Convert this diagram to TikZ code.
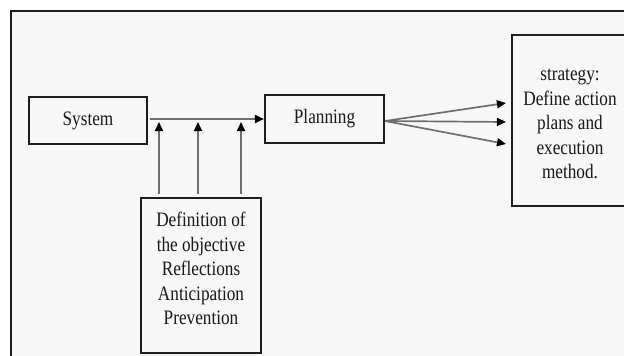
\documentclass[tikz,border=0pt]{standalone}
\usepackage{fontspec}
\setmainfont{Liberation Serif}[FakeStretch=0.84]
\usetikzlibrary{arrows.meta}
\definecolor{panel}{HTML}{F7F7F7}
\definecolor{edge}{HTML}{1E1E1E}
\definecolor{wire}{HTML}{6E6E6E}
\tikzset{
  box/.style={draw=edge, line width=2.1pt, rectangle, inner sep=0pt, fill=panel},
  boxtext/.style={align=center, inner sep=0pt, text=black!90, font=\fontsize{20.5}{24.5}\selectfont},
  flow/.style={draw=wire, line width=1.7pt,
    -{Triangle[length=9pt,width=8pt,color=black]}},
}
\begin{document}
\begin{tikzpicture}[x=1pt,y=-1pt]
  \useasboundingbox (0,0) rectangle (624,356);
  \clip (0,0) rectangle (624,356);
  \fill[white] (0,0) rectangle (624,356);
  % outer frame
  \draw[draw=edge, line width=2pt, fill=panel] (10.5,10.5) rectangle (660,400);

  % boxes
  \node[box, minimum width=118pt, minimum height=47pt, boxtext] (system) at (88,120.5) {System};
  \node[box, minimum width=119pt, minimum height=48pt, boxtext] (planning) at (324.5,119) {Planning};
  \node[box, minimum width=116pt, minimum height=171pt] (strategy) at (570,120.5) {};
  \node[boxtext] (strattext) at (570,124) {strategy:\\Define action\\plans and\\execution\\method.};
  \node[box, minimum width=120pt, minimum height=155pt] (defbox) at (201,275.5) {};
  \node[boxtext] (deftext) at (201,268.5) {Definition of\\the objective\\Reflections\\Anticipation\\Prevention};

  % main flow System -> Planning
  \draw[flow, shorten <=2pt] (system.east |- planning.west) -- (planning.west);

  % inputs from the objective box
  \foreach \dx/\nm in {-42/a, -3/b, 40/c} {
    \coordinate (in\nm) at ([xshift=\dx pt]defbox.north);
    \coordinate (tip\nm) at ([xshift=\dx pt]defbox.north |- 0,122);
    \draw[flow, shorten <=3pt] (in\nm) -- (tip\nm);
  }

  % fan-out Planning -> strategy
  \coordinate (src) at ([yshift=-2pt]planning.east);
  \coordinate (t1) at ([xshift=-5pt,yshift=17.5pt]strategy.west);
  \coordinate (t2) at ([xshift=-5pt,yshift=-1.5pt]strategy.west);
  \coordinate (t3) at ([xshift=-5pt,yshift=-23.5pt]strategy.west);
  \draw[flow] (src) -- (t1);
  \draw[flow] (src) -- (t2);
  \draw[flow] (src) -- (t3);
\end{tikzpicture}
\end{document}
